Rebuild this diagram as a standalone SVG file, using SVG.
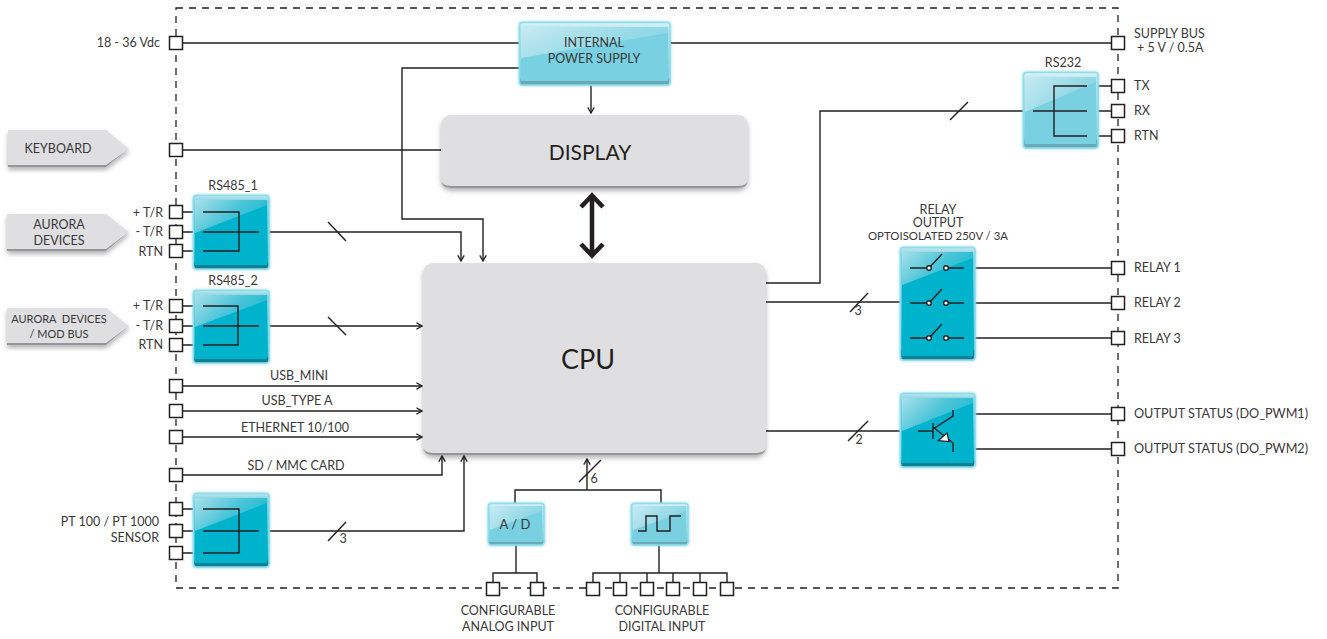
<svg xmlns="http://www.w3.org/2000/svg" width="1327" height="639" viewBox="0 0 1327 639">
<defs>
<filter id="sh" x="-10%" y="-10%" width="120%" height="125%"><feDropShadow dx="0" dy="3" stdDeviation="2.5" flood-color="#000" flood-opacity=".3"/></filter>
<filter id="glow" x="-10%" y="-10%" width="120%" height="120%"><feDropShadow dx="0" dy="0" stdDeviation="1.5" flood-color="#6fd0e2" flood-opacity=".9"/></filter>
<linearGradient id="edgeD" x1="0" y1="0" x2="0" y2="1"><stop offset="0" stop-color="#c0e8ef"/><stop offset=".08" stop-color="#7fd3e2"/><stop offset=".9" stop-color="#00b3cc"/><stop offset=".93" stop-color="#0b8094"/><stop offset="1" stop-color="#0b8094"/></linearGradient>
<linearGradient id="edgeL" x1="0" y1="0" x2="0" y2="1"><stop offset="0" stop-color="#e0f5f8"/><stop offset=".1" stop-color="#b5e4ee"/><stop offset=".88" stop-color="#78d0e0"/><stop offset=".92" stop-color="#6aa9b8"/><stop offset="1" stop-color="#6aa9b8"/></linearGradient>
<linearGradient id="glD" x1="0" y1="0" x2="1" y2=".5"><stop offset="0" stop-color="#a8e0ea"/><stop offset=".55" stop-color="#4cc5d9"/><stop offset="1" stop-color="#1cbad0"/></linearGradient>
<linearGradient id="glL" x1="0" y1="0" x2="1" y2=".5"><stop offset="0" stop-color="#c6ebf2"/><stop offset=".6" stop-color="#9cdce8"/><stop offset="1" stop-color="#86d5e3"/></linearGradient>
<marker id="arr" viewBox="0 0 10 10" refX="9" refY="5" markerWidth="8" markerHeight="8" markerUnits="userSpaceOnUse" orient="auto"><path d="M2 1 L9 5 L2 9" fill="none" stroke="#231f20" stroke-width="1.6"/></marker>
</defs>
<style>
text{font-family:"Lato","Noto Sans","Liberation Sans",sans-serif;fill:#3a3839;font-size:12.500px;text-anchor:middle;white-space:pre}
.s{text-anchor:start}.e{text-anchor:end}
.sm{font-size:11.400px}
.md2{font-size:11px}
.st{font-size:12.650px}
.big{font-size:21px;fill:#231f20}
.cpu{font-size:27px;fill:#231f20}
.ln{fill:none;stroke:#231f20;stroke-width:1.4}
.ar{marker-end:url(#arr)}
.dash{fill:none;stroke:#231f20;stroke-width:1.3;stroke-dasharray:7 6}
.port{fill:#fff;stroke:#231f20;stroke-width:1.500}
.gray{fill:#dfdfe1;filter:url(#sh)}
.grayb{fill:#96969a}
.tag{fill:#dfdfe1;filter:url(#sh)}
.bd{fill:url(#edgeD);stroke:#8fdcea;stroke-width:1.500;filter:url(#glow)}
.bl{fill:url(#edgeL);stroke:#8fdcea;stroke-width:1.500;filter:url(#glow)}
.md{fill:#00b3cc}.ml{fill:#78d0e0}
.gd{fill:url(#glD)}.gl{fill:url(#glL)}
.dot{fill:#fff;stroke:#231f20;stroke-width:1.400}
</style>
<rect x="176" y="8" width="942" height="580" class="dash"/>

<g id="connectors">
<path class="ln" d="M176 43H519M670 43H1118"/>
<path class="ln ar" d="M519 68H402V219H483V261"/>
<path class="ln ar" d="M591 85V113"/>
<path class="ln" d="M176 150H441"/>
<path fill="none" stroke="#231f20" stroke-width="4.500" d="M581 207L592 195.500L603 207M592 197V255M581 244L592 255.500L603 244"/>
<path class="ln ar" d="M269 232H461V261"/>
<path class="ln" d="M328 222L346 241"/>
<path class="ln ar" d="M269 326H422"/>
<path class="ln" d="M328 317L346 335"/>
<path class="ln ar" d="M176 386H422"/>
<path class="ln ar" d="M176 411H422"/>
<path class="ln ar" d="M176 437H422"/>
<path class="ln ar" d="M176 475H442V456"/>
<path class="ln ar" d="M269 531H464V456"/>
<path class="ln" d="M328 541L346 522"/>
<path class="ln" d="M183 212H193M183 232H193M183 251H193M183 306H193M183 326H193M183 345H193M183 509H193M183 531H193M183 553H193"/>
<path class="ln" d="M766 283H820V111H1023"/>
<path class="ln" d="M950 120L968 102"/>
<path class="ln" d="M766 302H900"/>
<path class="ln" d="M850 312L868 293"/>
<path class="ln" d="M766 431H900"/>
<path class="ln" d="M848 441L868 421"/>
<path class="ln" d="M1098 86H1118M1098 111H1118M1098 136H1118"/>
<path class="ln" d="M975 268H1118M975 303H1118M975 338H1118M975 414H1118M975 449H1118"/>
<path class="ln" d="M515 503V490H661V503"/>
<path class="ln ar" d="M587 490V459"/>
<path class="ln" d="M579 482L601 460"/>
<path class="ln" d="M516 545V573H493V588M516 573H537V588"/>
<path class="ln" d="M659 545V573M593 589V573H727V589M620 573V589M647 573V589M673 573V589M700 573V589"/>
</g>

<g id="display"><rect class="gray" x="441" y="115" width="307" height="73" rx="10"/><path class="grayb" d="M441 179Q441 188 451 188H738Q748 188 748 179Q748 186 738 186H451Q441 186 441 179Z"/><text class="big" x="590" y="160">DISPLAY</text></g>
<g id="cpu"><rect class="gray" x="423" y="263" width="343" height="192" rx="10"/><path class="grayb" d="M423 446Q423 455 433 455H756Q766 455 766 446Q766 453 756 453H433Q423 453 423 446Z"/><text class="cpu" x="588" y="369">CPU</text></g>

<g id="psu"><rect class="bl" x="519.500" y="22.500" width="150.500" height="62.500" rx="3"/><rect class="ml" x="521" y="27" width="147" height="54"/><path class="gl" d="M521 27H668V33L521 58Z"/><text x="594" y="47">INTERNAL</text><text x="594" y="63">POWER SUPPLY</text></g>

<g id="rs232"><rect class="bl" x="1023.500" y="72.500" width="74.500" height="75.500" rx="3"/><rect class="ml" x="1025" y="77" width="71" height="67"/><path class="gl" d="M1025 77H1096V82L1025 112Z"/><path class="ln" d="M1087 86H1054V136H1087M1033 111H1087"/><text x="1063" y="67">RS232</text></g>

<g id="rs485-1"><rect class="bd" x="193.500" y="195.500" width="75.500" height="73.500" rx="3"/><rect class="md" x="195" y="200" width="72" height="65"/><path class="gd" d="M195 200H267V205L195 233Z"/><path class="ln" d="M203 212H239V251H203M203 232H259"/><text x="233" y="190">RS485_1</text></g>
<g id="rs485-2"><rect class="bd" x="193.500" y="290.500" width="75.500" height="72.500" rx="3"/><rect class="md" x="195" y="295" width="72" height="64"/><path class="gd" d="M195 295H267V300L195 327Z"/><path class="ln" d="M203 306H238V345H203M203 326H259"/><text x="233" y="285">RS485_2</text></g>
<g id="pt100"><rect class="bd" x="193.500" y="493.500" width="75.500" height="73.500" rx="3"/><rect class="md" x="195" y="498" width="72" height="65"/><path class="gd" d="M195 498H267V503L195 531Z"/><path class="ln" d="M203 509H239V553H203M203 531H259"/></g>

<g id="relay"><rect class="bd" x="900.500" y="247.500" width="74.500" height="112.500" rx="3"/><rect class="md" x="902" y="252" width="71" height="104"/><path class="gd" d="M902 252H973V258L902 285Z"/>
<path class="ln" d="M910 268H929L942 254M946 268H964M910 303H929L942 289M946 303H964M910 338H929L942 324M946 338H964"/>
<circle class="dot" cx="929" cy="268" r="2.300"/><circle class="dot" cx="946" cy="268" r="2.300"/><circle class="dot" cx="929" cy="303" r="2.300"/><circle class="dot" cx="946" cy="303" r="2.300"/><circle class="dot" cx="929" cy="338" r="2.300"/><circle class="dot" cx="946" cy="338" r="2.300"/>
<text x="938" y="214">RELAY</text><text x="938" y="227">OUTPUT</text><text class="sm" x="938" y="240">OPTOISOLATED 250V / 3A</text></g>

<g id="transistor"><rect class="bd" x="900.500" y="393.500" width="74.500" height="73.500" rx="3"/><rect class="md" x="902" y="398" width="71" height="65"/><path class="gd" d="M902 398H973V403L902 431Z"/>
<path class="ln" d="M918 431H933M933 423V439M933 429L953 416V410M933 427L953 443V452"/><path fill="#fff" stroke="#231f20" stroke-width="1.200" d="M938.500 440.500L947 433L949 441.500Z"/></g>

<g id="ad"><rect class="bl" x="488.500" y="503.500" width="55.500" height="41.500" rx="3"/><rect class="ml" x="490" y="506" width="52" height="36"/><path class="gl" d="M490 506H542V511L490 530Z"/><text x="515" y="529" style="font-size:13px">A / D</text></g>
<g id="pulse"><rect class="bl" x="631.500" y="503.500" width="56.500" height="41.500" rx="3"/><rect class="ml" x="633" y="506" width="53" height="36"/><path class="gl" d="M633 506H686V511L633 530Z"/><path class="ln" d="M638 531H646V516H657V531H670V516H681"/></g>

<g id="keyboard"><path class="tag" d="M8 130H106L129 149L106 167H8Z"/><path class="grayb" d="M8 165H106L129 149L106 167H8Z"/><text x="58" y="153">KEYBOARD</text></g>
<g id="aurora"><path class="tag" d="M7 214H106L129 232L106 251H7Z"/><path class="grayb" d="M7 249H106L129 232L106 251H7Z"/><text x="59" y="229">AURORA</text><text x="59" y="245">DEVICES</text></g>
<g id="aurora-mod"><path class="tag" d="M7 308H106L129 326L106 345H7Z"/><path class="grayb" d="M7 343H106L129 326L106 345H7Z"/><text class="md2" x="59" y="323">AURORA  DEVICES</text><text class="md2" x="59" y="338">/ MOD BUS</text></g>

<g id="ports">
<rect class="port" x="169.500" y="36.500" width="13" height="13"/>
<rect class="port" x="169.500" y="143.500" width="13" height="13"/>
<rect class="port" x="169.500" y="205.500" width="13" height="13"/>
<rect class="port" x="169.500" y="225.500" width="13" height="13"/>
<rect class="port" x="169.500" y="244.500" width="13" height="13"/>
<rect class="port" x="169.500" y="299.500" width="13" height="13"/>
<rect class="port" x="169.500" y="319.500" width="13" height="13"/>
<rect class="port" x="169.500" y="338.500" width="13" height="13"/>
<rect class="port" x="169.500" y="379.500" width="13" height="13"/>
<rect class="port" x="169.500" y="404.500" width="13" height="13"/>
<rect class="port" x="169.500" y="430.500" width="13" height="13"/>
<rect class="port" x="169.500" y="468.500" width="13" height="13"/>
<rect class="port" x="169.500" y="502.500" width="13" height="13"/>
<rect class="port" x="169.500" y="524.500" width="13" height="13"/>
<rect class="port" x="169.500" y="546.500" width="13" height="13"/>
<rect class="port" x="1111.500" y="36.500" width="13" height="13"/>
<rect class="port" x="1111.500" y="79.500" width="13" height="13"/>
<rect class="port" x="1111.500" y="104.500" width="13" height="13"/>
<rect class="port" x="1111.500" y="129.500" width="13" height="13"/>
<rect class="port" x="1111.500" y="261.500" width="13" height="13"/>
<rect class="port" x="1111.500" y="296.500" width="13" height="13"/>
<rect class="port" x="1111.500" y="331.500" width="13" height="13"/>
<rect class="port" x="1111.500" y="407.500" width="13" height="13"/>
<rect class="port" x="1111.500" y="442.500" width="13" height="13"/>
<rect class="port" x="486.500" y="582.500" width="13" height="13"/>
<rect class="port" x="530.500" y="582.500" width="13" height="13"/>
<rect class="port" x="586.500" y="582.500" width="13" height="13"/>
<rect class="port" x="613.500" y="582.500" width="13" height="13"/>
<rect class="port" x="640.500" y="582.500" width="13" height="13"/>
<rect class="port" x="666.500" y="582.500" width="13" height="13"/>
<rect class="port" x="693.500" y="582.500" width="13" height="13"/>
<rect class="port" x="720.500" y="582.500" width="13" height="13"/>
</g>

<g id="labels">
<text class="e" x="160" y="47">18 - 36 Vdc</text>
<text class="e" x="163" y="217">+ T/R</text><text class="e" x="163" y="236">- T/R</text><text class="e" x="163" y="256">RTN</text>
<text class="e" x="163" y="310">+ T/R</text><text class="e" x="163" y="330">- T/R</text><text class="e" x="163" y="349">RTN</text>
<text x="299" y="380">USB_MINI</text><text x="297" y="405">USB_TYPE A</text><text x="295" y="432">ETHERNET 10/100</text><text x="296" y="470">SD / MMC CARD</text>
<text class="e" x="159" y="526">PT 100 / PT 1000</text><text class="e" x="159" y="542">SENSOR</text>
<text x="343" y="543">3</text><text x="858" y="315">3</text><text x="859" y="444">2</text><text x="594" y="483">6</text>
<text class="s" x="1134" y="38">SUPPLY BUS</text><text class="s" x="1137" y="52">+ 5 V / 0.5A</text>
<text class="s" x="1134" y="90">TX</text><text class="s" x="1134" y="115">RX</text><text class="s" x="1134" y="140">RTN</text>
<text class="s" x="1134" y="272">RELAY 1</text><text class="s" x="1134" y="307">RELAY 2</text><text class="s" x="1134" y="343">RELAY 3</text>
<text class="s st" x="1134" y="418">OUTPUT STATUS (DO_PWM1)</text><text class="s st" x="1134" y="453">OUTPUT STATUS (DO_PWM2)</text>
<text x="508" y="615">CONFIGURABLE</text><text x="508" y="631">ANALOG INPUT</text>
<text x="662" y="615">CONFIGURABLE</text><text x="662" y="631">DIGITAL INPUT</text>
</g>
</svg>
